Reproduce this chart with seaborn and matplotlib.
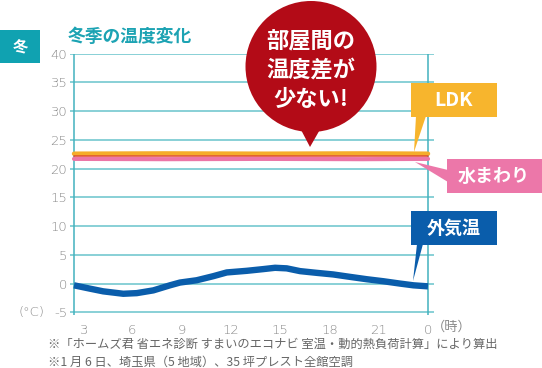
import matplotlib
matplotlib.use("Agg")
import matplotlib.pyplot as plt
import seaborn as sns
import pandas as pd
from matplotlib.patches import Rectangle, Circle, Polygon

# ---- data ----
hours = [2.45, 3.42, 4.23, 5.45, 6.27, 7.28, 8.29, 8.90, 9.92, 10.93, 11.75,
         12.96, 13.97, 14.69, 15.40, 16.21, 17.22, 18.23, 19.25, 20.27,
         21.28, 22.30, 23.11, 24.0]
outdoor = [-0.3, -0.88, -1.35, -1.77, -1.66, -1.18, -0.3, 0.18, 0.58, 1.29,
           1.94, 2.22, 2.52, 2.75, 2.65, 2.17, 1.87, 1.59, 1.17, 0.76, 0.41,
           0.0, -0.3, -0.48]
flat_hours = [2.45, 8.0, 14.0, 20.0, 24.0]
ldk = [22.6, 22.65, 22.6, 22.65, 22.6]
room = [22.15, 22.15, 22.15, 22.15, 22.15]
wet = [21.7, 21.65, 21.7, 21.65, 21.7]

xtick_vals = [3, 6, 9, 12, 15, 18, 21, 24]
xtick_labels = ["3", "6", "9", "12", "15", "18", "21", "0"]
ytick_vals = [-5, 0, 5, 10, 15, 20, 25, 30, 35, 40]

title = "冬季の温度変化"
season = "冬"
bubble_lines = ["部屋間の", "温度差が", "少ない!"]
label_ldk = "LDK"
label_wet = "水まわり"
label_out = "外気温"
note1 = "※「ホームズ君 省エネ診断 すまいのエコナビ 室温・動的熱負荷計算」により算出"
note2 = "※1 月 6 日、埼玉県（5 地域）、35 坪プレスト全館空調"

sns.set_style("white")
plt.rcParams["font.family"] = ["Noto Sans CJK JP", "DejaVu Sans"]
plt.rcParams["axes.unicode_minus"] = False

W, H = 542, 368
fig = plt.figure(figsize=(W / 100, H / 100), dpi=100)

# main axes (pixel layout)
left_px, right_px, top_px, bot_px = 70, 434, 53.7, 315.2
ax = fig.add_axes([left_px / W, 1 - bot_px / H, (right_px - left_px) / W,
                   (bot_px - top_px) / H])

grid_c = "#74c8d0"
vline_c = "#42b2be"
ax.set_xlim(2.207, 24.365)
ax.set_ylim(-5.5, 40)
ax.set_yticks(ytick_vals)
ax.set_xticks(xtick_vals)
ax.set_xticklabels(xtick_labels)
for s in ax.spines.values():
    s.set_visible(False)
ax.grid(axis="y", color=grid_c, lw=1.2)
ax.grid(axis="x", visible=False)
ax.set_axisbelow(True)
ax.vlines([hours[0], hours[-1]], -5.5, 40, color=vline_c, lw=1.1, zorder=1)
ax.tick_params(axis="both", length=0, colors="#8a8a8a", labelsize=9.5)
ax.tick_params(axis="y", pad=2)
ax.tick_params(axis="x", pad=6)
for lab in ax.get_xticklabels() + ax.get_yticklabels():
    lab.set_family("DejaVu Sans")
    lab.set_fontweight("light")

df_flat = pd.DataFrame({"h": flat_hours, "ldk": ldk, "room": room, "wet": wet})
df_out = pd.DataFrame({"h": hours, "t": outdoor})
sns.lineplot(data=df_flat, x="h", y="wet", ax=ax, color="#ec76a7", lw=3.0, zorder=3)
sns.lineplot(data=df_flat, x="h", y="ldk", ax=ax, color="#f5ad2a", lw=3.2, zorder=4)
sns.lineplot(data=df_flat, x="h", y="room", ax=ax, color="#de4b2a", lw=1.1, zorder=5)
sns.lineplot(data=df_out, x="h", y="t", ax=ax, color="#0a5dab", lw=4.6, zorder=6,
             solid_capstyle="butt")
ax.set_xlabel("")
ax.set_ylabel("")

# overlay in pixel coordinates for annotations
ov = fig.add_axes([0, 0, 1, 1], facecolor="none")
ov.set_xlim(0, W)
ov.set_ylim(H, 0)
ov.axis("off")

grey = "#8a8a8a"
ov.text(32, 312, "(°C)", ha="center", va="center", fontsize=9.5, color=grey,
        family="DejaVu Sans", fontweight="light")
ov.text(432, 327, "（時）", ha="left", va="center", fontsize=9.5, color=grey)

# season box and title
ov.add_patch(Rectangle((0, 30), 40, 33, color="#10a2b1", lw=0))
ov.text(20, 46.5, season, ha="center", va="center", fontsize=11, color="white",
        fontweight="bold")
ov.text(68, 37, title, ha="left", va="center", fontsize=12.8, color="#1ca3b3",
        fontweight="bold")

# red bubble
red = "#b30b17"
ov.add_patch(Circle((311, 66.5), 65.5, color=red, lw=0, zorder=5))
ov.add_patch(Polygon([(299, 126), (322, 126), (310, 147)], closed=True,
                     color=red, lw=0, zorder=5))
for i, t in enumerate(bubble_lines):
    ov.text(311, 42 + i * 28.5, t, ha="center", va="center", fontsize=16,
            color="white", fontweight="bold", zorder=6)

# LDK label
orange = "#f7b52d"
ov.add_patch(Rectangle((411, 83), 86, 34, color=orange, lw=0))
ov.add_patch(Polygon([(416, 116), (426, 116), (414, 152)], closed=True,
                     color=orange, lw=0))
ov.text(454, 100.5, label_ldk, ha="center", va="center", fontsize=14,
        color="white", fontweight="bold")

# 水まわり label
pink = "#ec77a9"
ov.add_patch(Rectangle((447, 159), 95, 34, color=pink, lw=0))
ov.add_patch(Polygon([(448, 170), (448, 182), (415, 162)], closed=True,
                     color=pink, lw=0))
ov.text(494, 176, label_wet, ha="center", va="center", fontsize=13,
        color="white", fontweight="bold")

# 外気温 label
blue = "#0a5dab"
ov.add_patch(Rectangle((411, 211), 86, 34, color=blue, lw=0))
ov.add_patch(Polygon([(417, 244), (423, 244), (413, 281)], closed=True,
                     color=blue, lw=0))
ov.text(454, 228, label_out, ha="center", va="center", fontsize=13,
        color="white", fontweight="bold")

# footnotes
ov.text(48, 344, note1, ha="left", va="center", fontsize=8.8, color="#666666")
ov.text(48, 362, note2, ha="left", va="center", fontsize=8.8, color="#666666")

fig.savefig("out.png", dpi=100)
